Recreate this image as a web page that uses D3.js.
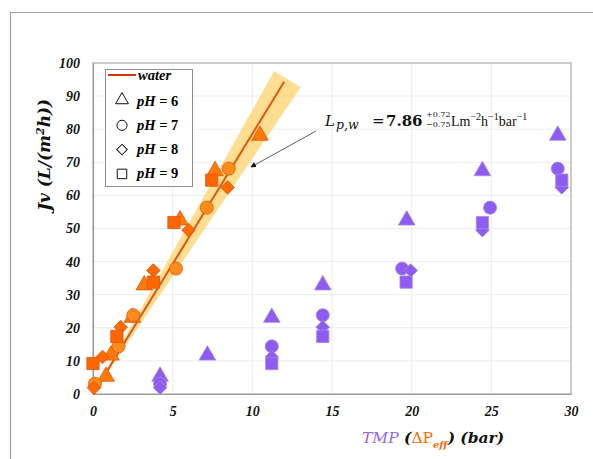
<!DOCTYPE html>
<html>
<head>
<meta charset="utf-8">
<script src="https://cdn.jsdelivr.net/npm/d3@7"></script>
<style>
  body { margin: 0; background: #fff; }
</style>
</head>
<body>
<div id="chart"></div>
<script>
// Jv values shared by both pressure scales, per pH
var ph6Jv   = [5.0, 11.4, 22.8, 32.6, 52.2, 67.1, 77.8];
var ph6Tmp  = [4.21, 7.18, 11.22, 14.42, 19.69, 24.44, 29.17];
var ph6Peff = [0.82, 1.13, 2.47, 3.22, 5.46, 7.66, 10.48];

var ph7Jv   = [3.1, 14.4, 23.8, 37.9, 56.3, 68.1];
var ph7Tmp  = [4.21, 11.22, 14.42, 19.40, 24.92, 29.17];
var ph7Peff = [0.12, 1.60, 2.53, 5.21, 7.14, 8.52];

var ph8Jv   = [1.9, 11.2, 20.2, 37.3, 49.5, 62.4];
var ph8Tmp  = [4.21, 11.22, 14.42, 19.94, 24.44, 29.42];
var ph8Peff = [0.06, 0.60, 1.74, 3.79, 6.00, 8.45];

var ph9Jv   = [9.2, 17.4, 33.8, 51.8, 64.6];
var ph9Tmp  = [11.22, 14.42, 19.65, 24.44, 29.42];
var ph9Peff = [0.00, 1.50, 3.79, 5.08, 7.45];

// water permeance fit
var lpw = 7.86, lpwPlus = 0.72, lpwMinus = 0.75;
var waterEnd = 12;

var xTicks = [0, 5, 10, 15, 20, 25, 30];
var yTicks = [0, 10, 20, 30, 40, 50, 60, 70, 80, 90, 100];

var series = [
  { label: '6', jv: ph6Jv, tmp: ph6Tmp, peff: ph6Peff, shape: 'triangle', orange: '#ff7a0a' },
  { label: '7', jv: ph7Jv, tmp: ph7Tmp, peff: ph7Peff, shape: 'circle',   orange: '#ff8c1a' },
  { label: '8', jv: ph8Jv, tmp: ph8Tmp, peff: ph8Peff, shape: 'diamond',  orange: '#ff6a00' },
  { label: '9', jv: ph9Jv, tmp: ph9Tmp, peff: ph9Peff, shape: 'square',   orange: '#ff6600' }
];

var width = 593, height = 459;
var mLeft = 93, mRight = 571, mTop = 63, mBottom = 394;
var serif = '"Liberation Serif", serif';
var wideSerif = '"DejaVu Serif", serif';

var svg = d3.select('#chart').append('svg')
  .attr('width', width)
  .attr('height', height)
  .attr('font-family', serif);

// outer frame
svg.append('path')
  .attr('d', 'M10.5,' + height + 'V12.5H' + width)
  .attr('fill', 'none')
  .attr('stroke', '#a0a0a0')
  .attr('stroke-width', 1.2);

var x = d3.scaleLinear().domain([0, 30]).range([mLeft, mRight]);
var y = d3.scaleLinear().domain([0, 100]).range([mBottom, mTop]);

// grid
svg.append('g').selectAll('line').data(yTicks.slice(1)).enter().append('line')
  .attr('x1', mLeft).attr('x2', mRight)
  .attr('y1', function (d) { return y(d); }).attr('y2', function (d) { return y(d); })
  .attr('stroke', '#ececec');
svg.append('g').selectAll('line').data(xTicks.slice(1)).enter().append('line')
  .attr('y1', mTop).attr('y2', mBottom)
  .attr('x1', function (d) { return x(d); }).attr('x2', function (d) { return x(d); })
  .attr('stroke', '#ececec');

// plot border
svg.append('rect')
  .attr('x', mLeft).attr('y', mTop)
  .attr('width', mRight - mLeft).attr('height', mBottom - mTop)
  .attr('fill', 'none')
  .attr('stroke', '#bdbdbd')
  .attr('stroke-width', 1.5);

// axes
var xAxis = svg.append('g')
  .attr('transform', 'translate(0,' + mBottom + ')')
  .call(d3.axisBottom(x).tickValues(xTicks).tickSize(0).tickPadding(12));
var yAxis = svg.append('g')
  .attr('transform', 'translate(' + mLeft + ',0)')
  .call(d3.axisLeft(y).tickValues(yTicks).tickSize(0).tickPadding(13));
[xAxis, yAxis].forEach(function (a) {
  a.attr('font-family', serif).attr('font-size', 14);
  a.select('.domain').attr('stroke', '#9a9a9a').attr('stroke-width', 1.2);
  a.selectAll('text')
    .attr('font-weight', 'bold')
    .attr('font-style', 'italic')
    .attr('fill', '#111');
});

// uncertainty band around the water line (built in pixel space)
var o = [x(0), y(0)];
var e = [x(waterEnd), y(lpw * waterEnd)];
var len = Math.hypot(e[0] - o[0], e[1] - o[1]);
var dir = [(e[0] - o[0]) / len, (e[1] - o[1]) / len];
var capDist = len + 4;
function edgePoint(slope) {
  var p = [x(waterEnd) - o[0], y(slope * waterEnd) - o[1]];
  var t = capDist / (p[0] * dir[0] + p[1] * dir[1]);
  return [o[0] + p[0] * t, o[1] + p[1] * t];
}
svg.append('path')
  .attr('d', d3.line()([o, edgePoint(lpw + lpwPlus), edgePoint(lpw - lpwMinus)]) + 'Z')
  .attr('fill', '#ffd36e')
  .attr('fill-opacity', 0.75);

svg.append('line')
  .attr('x1', x(0)).attr('y1', y(0))
  .attr('x2', x(waterEnd)).attr('y2', y(lpw * waterEnd))
  .attr('stroke', '#e2550c')
  .attr('stroke-width', 2);

// markers
function symbolFor(shape, big) {
  var s = big ? 1 : 0.6;
  if (shape === 'triangle') return d3.symbol().type(d3.symbolTriangle).size(120 * s)();
  if (shape === 'circle') return d3.symbol().type(d3.symbolCircle).size(135 * s)();
  if (shape === 'square') return d3.symbol().type(d3.symbolSquare).size(150 * s)();
  return d3.symbol().type(d3.symbolSquare).size(92 * s)();
}
function markerTransform(shape, px, py) {
  var t = 'translate(' + px + ',' + py + ')';
  if (shape === 'triangle') t += ' translate(0,-1)';
  if (shape === 'diamond') t += ' rotate(45)';
  return t;
}

series.forEach(function (s) {
  svg.append('g').selectAll('path').data(s.jv).enter().append('path')
    .attr('d', symbolFor(s.shape, true))
    .attr('transform', function (d, i) { return markerTransform(s.shape, x(s.tmp[i]), y(d)); })
    .attr('fill', '#8e5cf0')
    .attr('stroke', '#a488ee')
    .attr('stroke-width', 0.8);
});
series.forEach(function (s) {
  svg.append('g').selectAll('path').data(s.jv).enter().append('path')
    .attr('d', symbolFor(s.shape, true))
    .attr('transform', function (d, i) { return markerTransform(s.shape, x(s.peff[i]), y(d)); })
    .attr('fill', s.orange)
    .attr('stroke', '#d95a10')
    .attr('stroke-width', 0.8);
});

// legend
var lg = svg.append('g');
lg.append('rect')
  .attr('x', 105.5).attr('y', 69.5).attr('width', 87).attr('height', 117)
  .attr('fill', '#fff').attr('stroke', '#8c8c8c').attr('stroke-width', 1);
lg.append('line')
  .attr('x1', 108).attr('x2', 136).attr('y1', 75).attr('y2', 75)
  .attr('stroke', '#d8320c').attr('stroke-width', 2);
lg.append('text')
  .attr('x', 138).attr('y', 79.5)
  .attr('font-size', 14.5).attr('font-weight', 'bold').attr('font-style', 'italic')
  .text('water');
series.forEach(function (s, i) {
  var cy = 101 + i * 24.3;
  lg.append('path')
    .attr('d', symbolFor(s.shape, false))
    .attr('transform', markerTransform(s.shape, 122, cy))
    .attr('fill', 'none').attr('stroke', '#111').attr('stroke-width', 1);
  var t = lg.append('text')
    .attr('x', 137).attr('y', cy + 4.5)
    .attr('font-size', 14.5).attr('font-weight', 'bold');
  t.append('tspan').attr('font-style', 'italic').text('pH');
  t.append('tspan').text(' = ' + s.label);
});

// axis titles
var yl = svg.append('text')
  .attr('transform', 'translate(50,155) rotate(-90)')
  .attr('text-anchor', 'middle')
  .attr('font-family', wideSerif)
  .attr('font-size', 17).attr('font-weight', 'bold').attr('font-style', 'italic')
  .attr('fill', '#111');
yl.append('tspan').text('Jv (L/(m');
yl.append('tspan').attr('font-size', 11).attr('dy', -6).text('2');
yl.append('tspan').attr('dy', 6).text('h))');

var xl = svg.append('text')
  .attr('x', 362).attr('y', 443)
  .attr('font-family', wideSerif)
  .attr('font-size', 15.5).attr('font-style', 'italic');
xl.append('tspan').attr('fill', '#9466f2').text('TMP');
xl.append('tspan').attr('fill', '#111').attr('font-weight', 'bold').text(' (');
xl.append('tspan').attr('fill', '#ff6a00').attr('font-style', 'normal').text('ΔP');
xl.append('tspan').attr('fill', '#ff6a00').attr('font-weight', 'bold').attr('font-size', 10).attr('dy', 5).text('eff');
xl.append('tspan').attr('fill', '#111').attr('font-weight', 'bold').attr('dy', -5).text(') (bar)');

// annotation
var an = svg.append('g').attr('fill', '#111').attr('font-family', wideSerif);
an.append('text').attr('x', 325).attr('y', 126).attr('font-size', 15).attr('font-style', 'italic').text('L');
an.append('text').attr('x', 336).attr('y', 129).attr('font-size', 12.5).attr('font-style', 'italic').text('p,w');
an.append('text').attr('x', 372).attr('y', 126).attr('font-size', 15).text('=');
an.append('text').attr('x', 386).attr('y', 126).attr('font-size', 15).attr('font-weight', 'bold').text('7.86');
an.append('text').attr('x', 426).attr('y', 117).attr('font-size', 8).text('+' + lpwPlus.toFixed(2));
an.append('text').attr('x', 426).attr('y', 127).attr('font-size', 8).text('\u2212' + lpwMinus.toFixed(2));
var au = an.append('text').attr('x', 451).attr('y', 126)
  .attr('font-family', serif).attr('font-size', 14);
au.append('tspan').text('Lm');
au.append('tspan').attr('font-size', 10).attr('dy', -6).text('\u22122');
au.append('tspan').attr('dy', 6).text('h');
au.append('tspan').attr('font-size', 10).attr('dy', -6).text('\u22121');
au.append('tspan').attr('dy', 6).text('bar');
au.append('tspan').attr('font-size', 10).attr('dy', -6).text('\u22121');

svg.append('defs').append('marker')
  .attr('id', 'arrow').attr('viewBox', '0 0 10 10')
  .attr('refX', 9).attr('refY', 5)
  .attr('markerWidth', 7).attr('markerHeight', 7)
  .attr('orient', 'auto-start-reverse')
  .append('path').attr('d', 'M0,0L10,5L0,10Z').attr('fill', '#111');
svg.append('line')
  .attr('x1', 316).attr('y1', 131).attr('x2', 251).attr('y2', 167)
  .attr('stroke', '#333').attr('stroke-width', 0.8)
  .attr('marker-end', 'url(#arrow)');
</script>
</body>
</html>
